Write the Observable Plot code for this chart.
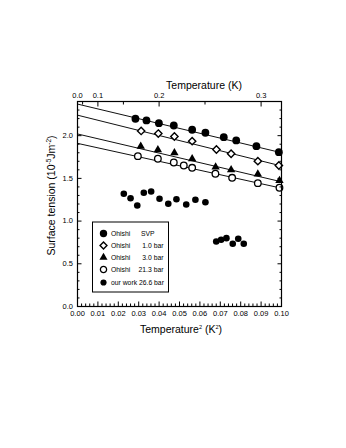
<!DOCTYPE html>
<html><head><meta charset="utf-8">
<script src="https://cdn.jsdelivr.net/npm/d3@7"></script>
<script src="https://cdn.jsdelivr.net/npm/@observablehq/plot@0.6"></script>
<style>
body{margin:0;background:#fff;}
#chart{position:relative;width:346px;height:448px;}
svg text{font-family:"Liberation Sans",Arial,sans-serif;}
</style></head><body><div id="chart"></div>
<script>
// Ohishi SVP
const svpT2 = [0.0284, 0.0338, 0.0399, 0.0472, 0.0562, 0.0627, 0.0717, 0.0778, 0.0877, 0.0987];
const svpSigma = [2.198, 2.178, 2.146, 2.119, 2.069, 2.034, 1.982, 1.944, 1.877, 1.807];
// Ohishi 1.0 bar
const bar1T2 = [0.0312, 0.0396, 0.0475, 0.0562, 0.0681, 0.0753, 0.0884, 0.0987];
const bar1Sigma = [2.055, 2.025, 1.99, 1.936, 1.838, 1.788, 1.701, 1.651];
// Ohishi 3.0 bar
const bar3T2 = [0.0310, 0.0394, 0.0475, 0.0562, 0.0677, 0.0753, 0.0884, 0.0990];
const bar3Sigma = [1.874, 1.835, 1.80, 1.73, 1.631, 1.60, 1.55, 1.475];
// Ohishi 21.3 bar
const bar21T2 = [0.0296, 0.0394, 0.0472, 0.0521, 0.0562, 0.0676, 0.0758, 0.0884, 0.0990];
const bar21Sigma = [1.76, 1.73, 1.686, 1.651, 1.624, 1.554, 1.507, 1.444, 1.39];
// our work 26.6 bar
const oursT2 = [0.0227, 0.0260, 0.0293, 0.0325, 0.0361, 0.0402, 0.0445, 0.0485, 0.0533, 0.0578, 0.0627,
                0.0680, 0.0704, 0.0730, 0.0761, 0.0788, 0.0815];
const oursSigma = [1.32, 1.268, 1.183, 1.331, 1.347, 1.261, 1.203, 1.256, 1.194, 1.249, 1.221,
                   0.761, 0.781, 0.80, 0.734, 0.793, 0.734];
// straight fit lines (value at T^2 = 0 and at T^2 = 0.1)
const fitNames = ["SVP", "1.0 bar", "3.0 bar", "21.3 bar"];
const fitT2 = [0, 0.1];
const fitAtZero = [2.37, 2.24, 2.02, 1.91];
const fitAtTenth = [1.80, 1.645, 1.46, 1.385];
// ticks
const xMajor = [0, 0.01, 0.02, 0.03, 0.04, 0.05, 0.06, 0.07, 0.08, 0.09, 0.10];
const yMajor = [0, 0.5, 1.0, 1.5, 2.0];
const topTMajor = [0.0, 0.1, 0.2, 0.3];
const topTMinor = [0.05, 0.15, 0.25];
// legend
const legendLabels = ["Ohishi", "Ohishi", "Ohishi", "Ohishi", "our work 26.6 bar"];
const legendConds = ["SVP", "1.0 bar", "3.0 bar", "21.3 bar", ""];

const xMinor = d3.range(0, 100.5, 2).map(d => d / 1000).filter(d => !xMajor.some(m => Math.abs(m - d) < 1e-9));
const yMinor = d3.range(0, 24.5, 1).map(d => d / 10).filter(d => !yMajor.some(m => Math.abs(m - d) < 1e-9));

const pts = (xs, ys) => xs.map((x, i) => ({x, y: ys[i]}));
const fitRows = fitNames.flatMap((n, i) => [
  {n, x: fitT2[0], y: fitAtZero[i]},
  {n, x: fitT2[1], y: fitAtTenth[i]}
]);
const blank = () => "";
const font = '"Liberation Sans", Arial, sans-serif';

const plot = Plot.plot({
  width: 346, height: 448,
  marginLeft: 77, marginRight: 65, marginTop: 101, marginBottom: 142,
  x: {domain: [0, 0.1]},
  y: {domain: [0, 2.4]},
  style: {fontFamily: font, fontSize: "7.5px", color: "#000", background: "white"},
  marks: [
    Plot.line(fitRows, {x: "x", y: "y", z: "n", stroke: "#111", strokeWidth: 1}),
    Plot.dot(pts(svpT2, svpSigma), {x: "x", y: "y", r: 3.9, fill: "#000", stroke: "none"}),
    Plot.dot(pts(bar1T2, bar1Sigma), {x: "x", y: "y", symbol: "diamond2", r: 3.3, fill: "white", stroke: "#000", strokeWidth: 1.4}),
    Plot.dot(pts(bar3T2, bar3Sigma), {x: "x", y: "y", symbol: "triangle", r: 3.1, fill: "#000", stroke: "none"}),
    Plot.dot(pts(bar21T2, bar21Sigma), {x: "x", y: "y", r: 3.3, fill: "white", stroke: "#000", strokeWidth: 1.3}),
    Plot.dot(pts(oursT2, oursSigma), {x: "x", y: "y", r: 3.3, fill: "#000", stroke: "none"}),
    // bottom axis
    Plot.axisX({anchor: "bottom", ticks: xMajor, tickSize: -4.5, tickFormat: blank, label: null}),
    Plot.axisX({anchor: "bottom", ticks: xMinor, tickSize: -2.5, tickFormat: blank, label: null}),
    Plot.axisX({anchor: "bottom", ticks: xMajor, tickSize: 0, tickPadding: 4, tickFormat: d3.format(".2f"), label: null}),
    // top axis (temperature in K at T^2 positions)
    Plot.axisX({anchor: "top", ticks: topTMajor.map(t => t * t), tickSize: -4.5, tickFormat: blank, label: null}),
    Plot.axisX({anchor: "top", ticks: topTMinor.map(t => t * t), tickSize: -2.5, tickFormat: blank, label: null}),
    Plot.axisX({anchor: "top", ticks: topTMajor.map(t => t * t), tickSize: 0, tickPadding: 4,
      tickFormat: d => d3.format(".1f")(Math.sqrt(d)), label: null}),
    // left axis
    Plot.axisY({anchor: "left", ticks: yMajor, tickSize: -4.5, tickFormat: blank, label: null}),
    Plot.axisY({anchor: "left", ticks: yMinor, tickSize: -2.5, tickFormat: blank, label: null}),
    Plot.axisY({anchor: "left", ticks: yMajor, tickSize: 0, tickPadding: 4.5, tickFormat: d3.format(".1f"), label: null}),
    // right axis ticks
    Plot.axisY({anchor: "right", ticks: yMajor, tickSize: -4.5, tickFormat: blank, label: null}),
    Plot.axisY({anchor: "right", ticks: yMinor, tickSize: -2.5, tickFormat: blank, label: null}),
    Plot.frame({stroke: "#000", strokeWidth: 1.2})
  ]
});

document.getElementById("chart").appendChild(plot);

const svg = d3.select(plot);
const X = plot.scale("x"), Y = plot.scale("y");
const x0 = X.apply(0), x1 = X.apply(0.1), yTop = Y.apply(2.4), yBot = Y.apply(0);

// axis titles
svg.append("text").attr("x", 204).attr("y", 89).attr("text-anchor", "middle")
  .attr("font-size", "10.5px").attr("fill", "#000").text("Temperature (K)");

const bt = svg.append("text").attr("x", (x0 + x1) / 2 + 2).attr("y", yBot + 27).attr("text-anchor", "middle")
  .attr("font-size", "10.5px").attr("fill", "#000");
bt.append("tspan").text("Temperature");
bt.append("tspan").attr("font-size", "5.5px").attr("dy", "-4").text("2");
bt.append("tspan").attr("dy", "4").text(" (K");
bt.append("tspan").attr("font-size", "5.5px").attr("dy", "-4").text("2");
bt.append("tspan").attr("dy", "4").text(")");

const yt = svg.append("text")
  .attr("transform", `translate(55,${(yTop + yBot) / 2 - 8}) rotate(-90)`)
  .attr("text-anchor", "middle").attr("font-size", "10.5px").attr("fill", "#000");
yt.append("tspan").text("Surface tension (10");
yt.append("tspan").attr("font-size", "6.5px").attr("dy", "-4").text("-5");
yt.append("tspan").attr("dy", "4").text("Jm");
yt.append("tspan").attr("font-size", "6.5px").attr("dy", "-4").text("-2");
yt.append("tspan").attr("dy", "4").text(")");

// legend
const lg = svg.append("g").attr("transform", "translate(92.5,222)");
lg.append("rect").attr("width", 76).attr("height", 70).attr("fill", "white").attr("stroke", "#000").attr("stroke-width", 1);
const rowY = [11.5, 23.5, 35.5, 47.5, 60.5];
const sym = [
  {type: d3.symbolCircle, r: 3.7, fill: "#000", stroke: "none", sw: 0},
  {type: d3.symbolDiamond2, r: 3.1, fill: "white", stroke: "#000", sw: 1.4},
  {type: d3.symbolTriangle, r: 3.0, fill: "#000", stroke: "none", sw: 0},
  {type: d3.symbolCircle, r: 3.1, fill: "white", stroke: "#000", sw: 1.3},
  {type: d3.symbolCircle, r: 3.1, fill: "#000", stroke: "none", sw: 0}
];
legendLabels.forEach((lab, i) => {
  const s = sym[i];
  lg.append("path").attr("transform", `translate(11,${rowY[i]})`)
    .attr("d", d3.symbol(s.type, s.r * s.r * Math.PI)())
    .attr("fill", s.fill).attr("stroke", s.stroke).attr("stroke-width", s.sw);
  lg.append("text").attr("x", 18.5).attr("y", rowY[i]).attr("dy", "0.35em")
    .attr("text-anchor", "start")
    .attr("font-size", "6.8px").attr("fill", "#000").text(lab);
  if (legendConds[i]) {
    const isSvp = legendConds[i] === "SVP";
    lg.append("text").attr("x", isSvp ? 48.5 : 71).attr("y", rowY[i]).attr("dy", "0.35em")
      .attr("text-anchor", isSvp ? "start" : "end")
      .attr("font-size", "6.8px").attr("fill", "#000").text(legendConds[i]);
  }
});
</script></body></html>
